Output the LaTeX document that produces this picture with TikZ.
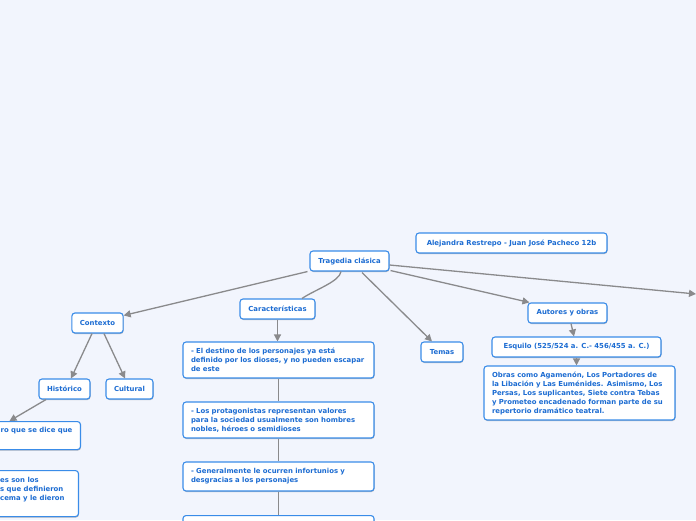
\documentclass[tikz,border=0pt]{standalone}
\usepackage{fontspec}
\setmainfont{DejaVu Sans}
\usetikzlibrary{arrows.meta,shadows}
\definecolor{bg}{RGB}{242,245,253}
\definecolor{bd}{RGB}{58,140,232}
\definecolor{tx}{RGB}{28,108,210}
\definecolor{ln}{RGB}{138,138,140}
\tikzset{
  box/.style={draw=bd, fill=white, line width=1.1pt, rounded corners=3pt, text=tx,
    font=\fontsize{6.9}{9}\selectfont\bfseries, inner xsep=8pt, inner ysep=0pt,
    minimum height=20pt, align=center,
    drop shadow={shadow xshift=0.5pt, shadow yshift=-1pt, opacity=0.25, fill=black}},
  wbox/.style={box, text width=175pt, align=left, minimum width=191pt},
  txt/.style={text=tx, font=\fontsize{6.9}{9}\selectfont\bfseries, inner sep=0pt, align=left},
  arr/.style={draw=ln, line width=1.3pt, -{Triangle[length=7pt,width=7pt]}},
  con/.style={draw=ln, line width=1.3pt}
}
\begin{document}
\begin{tikzpicture}[x=1pt,y=-1pt]
\fill[bg] (0,0) rectangle (696,520);
\useasboundingbox (0,0) rectangle (696,520);
\clip (0,0) rectangle (696,520);

\node[box, minimum width=79] (trag) at (349.5,261) {Tragedia clásica};
\node[box, minimum width=191] (auth) at (511.5,243) {Alejandra Restrepo - Juan José Pacheco 12b};
\node[box, minimum width=51] (ctx) at (97.5,323) {Contexto};
\node[box, minimum width=75] (car) at (277.5,309) {Características};
\node[box, minimum width=42] (tem) at (442,352) {Temas};
\node[box, minimum width=79] (aut) at (567.5,313) {Autores y obras};
\node[box, minimum width=169] (esq) at (576.5,347) {Esquilo (525/524 a. C.- 456/455 a. C.)};
\node[wbox, minimum height=54] (obr) at (579.5,393) {Obras como Agamenón, Los Portadores de\\la Libación y Las Euménides. Asimismo, Los\\Persas, Los suplicantes, Siete contra Tebas\\y Prometeo encadenado forman parte de su\\repertorio dramático teatral.};
\node[box, minimum width=51] (his) at (64.5,389) {Histórico};
\node[box, minimum width=47] (cul) at (129.5,389) {Cultural};

\node[wbox, minimum height=36] (b1) at (278.5,360) {- El destino de los personajes ya está\\definido por los dioses, y no pueden escapar\\de este};
\node[wbox, minimum height=36] (b2) at (278.5,420) {- Los protagonistas representan valores\\para la sociedad usualmente son hombres\\nobles, héroes o semidioses};
\node[wbox, minimum height=29] (b3) at (278.5,476.5) {- Generalmente le ocurren infortunios y\\desgracias a los personajes};
\node[wbox, minimum height=36, anchor=north] (b4) at (278.5,515) {};

\node[box, minimum width=100, minimum height=28, anchor=north east] (hA) at (81,421) {};
\node[txt, anchor=west] (hAt) at (0.5,431) {ro que se dice que};
\node[box, minimum width=100, minimum height=46, anchor=north east] (hB) at (79,470) {};
\node[txt, anchor=north west] (hBt) at (0,477) {es son los\\s que definieron\\cema y le dieron};

\coordinate (offr) at (696,294);

\draw[arr] ([xshift=-2pt]trag.south west) -- ([yshift=-3pt]ctx.north east);
\draw[con] ([xshift=-8.5pt]trag.south) .. controls ([xshift=-10pt,yshift=-10pt]trag.south) and ([xshift=38pt,yshift=9pt]car.north) .. ([xshift=24.5pt]car.north);
\draw[arr] ([xshift=12.5pt,yshift=-1pt]trag.south) -- ([xshift=-10pt]tem.north);
\draw[arr] ([xshift=1pt,yshift=1pt]trag.south east) -- ([xshift=2pt]aut.north west);
\draw[arr] ([yshift=-4pt]trag.east) -- (offr);

\draw[arr] (car.south) -- (car.south |- b1.north);
\draw[con] (b1.south) -- (b2.north);
\draw[con] (b2.south) -- (b3.north);
\draw[con] (b3.south) -- (b4.north);

\draw[arr] ([xshift=-5.5pt]ctx.south) -- ([xshift=6.5pt]his.north);
\draw[arr] ([xshift=6.5pt]ctx.south) -- ([xshift=-4.5pt]cul.north);
\draw[arr] ([xshift=-18.5pt]his.south) -- ([xshift=-21pt]hA.north);

\draw[arr] ([xshift=3.5pt]aut.south) -- ([xshift=-2.5pt]esq.north);
\draw[arr] (esq.south) -- (esq.south |- obr.north);
\end{tikzpicture}
\end{document}
